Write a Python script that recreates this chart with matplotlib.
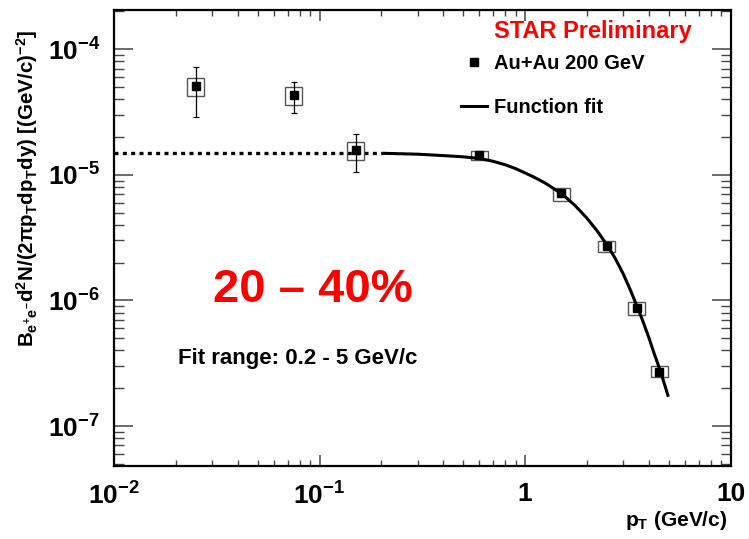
import numpy as np
import matplotlib
matplotlib.use('Agg')
import matplotlib.pyplot as plt
from matplotlib.patches import Rectangle
from matplotlib.lines import Line2D
from matplotlib.ticker import NullFormatter

plt.rcParams['font.family'] = ['Liberation Sans', 'DejaVu Sans']
plt.rcParams['font.weight'] = 'bold'
plt.rcParams['mathtext.fontset'] = 'custom'
plt.rcParams['mathtext.rm'] = 'Liberation Sans:bold'
plt.rcParams['mathtext.it'] = 'Liberation Sans:bold'
plt.rcParams['mathtext.bf'] = 'Liberation Sans:bold'

# data points
pt = np.array([0.025, 0.075, 0.15, 0.6, 1.5, 2.5, 3.5, 4.5])
yld = np.array([5.08e-5, 4.28e-5, 1.57e-5, 1.44e-5, 7.11e-6, 2.71e-6, 8.63e-7, 2.70e-7])
stat_lo = np.array([2.18e-5, 1.20e-5, 5.2e-6, 3e-7, 1.5e-7, 6e-8, 2e-8, 8e-9])
stat_hi = np.array([2.16e-5, 1.19e-5, 5.3e-6, 3e-7, 1.5e-7, 6e-8, 2e-8, 8e-9])
sys_lo = np.array([8.2e-6, 6.9e-6, 2.6e-6, 1.3e-6, 9.3e-7, 2.8e-7, 9.9e-8, 2.6e-8])
sys_hi = np.array([8.3e-6, 6.8e-6, 2.5e-6, 1.1e-6, 6.9e-7, 2.7e-7, 1.01e-7, 3.0e-8])

# fit curve, fit range 0.2 - 5 GeV/c
fit_pt = [0.204, 0.3, 0.4, 0.5, 0.6, 0.7, 0.8, 0.9, 1.0, 1.1, 1.25, 1.52, 1.75, 2.0,
          2.25, 2.53, 2.75, 3.0, 3.25, 3.54, 3.75, 4.0, 4.25, 4.57, 4.98]
fit_y = [1.483e-5, 1.459e-5, 1.422e-5, 1.39e-5, 1.349e-5, 1.28e-5, 1.202e-5, 1.12e-5,
         1.035e-5, 9.62e-6, 8.61e-6, 7.00e-6, 5.70e-6, 4.52e-6, 3.55e-6, 2.70e-6,
         2.15e-6, 1.633e-6, 1.216e-6, 8.63e-7, 6.78e-7, 5.07e-7, 3.77e-7, 2.70e-7, 1.71e-7]
# extrapolation to low pT
ext_pt = [0.01, 0.204]
ext_y = [1.48e-5, 1.48e-5]

xticks = [0.01, 0.1, 1, 10]
xticklabels = [r'$10^{-2}$', r'$10^{-1}$', '1', '10']
yticks = [1e-7, 1e-6, 1e-5, 1e-4]
yticklabels = [r'$10^{-7}$', r'$10^{-6}$', r'$10^{-5}$', r'$10^{-4}$']

fig = plt.figure(figsize=(7.49, 5.39), dpi=100)
ax = fig.add_axes([0.1522, 0.1362, 0.8232, 0.8447])
ax.set_xscale('log')
ax.set_yscale('log')
ax.set_xlim(1e-2, 10)
ax.set_ylim(4.84e-8, 2.04e-4)

# systematic boxes
hw = 0.0414  # half width in decades
for x, y, lo, hi in zip(pt, yld, sys_lo, sys_hi):
    x0 = x * 10 ** (-hw)
    x1 = x * 10 ** hw
    ax.add_patch(Rectangle((x0, y - lo), x1 - x0, lo + hi, fill=False,
                           edgecolor='#555555', linewidth=1.0, zorder=3))

ax.plot(ext_pt, ext_y, color='black', linewidth=2.4, dashes=(1.2, 1.3), zorder=2)
ax.plot(fit_pt, fit_y, color='black', linewidth=2.2, zorder=4, solid_capstyle='butt',
        solid_joinstyle='round')

ax.errorbar(pt, yld, yerr=[stat_lo, stat_hi], fmt='s', color='black', markersize=5.3,
            elinewidth=0.9, capsize=2.5, capthick=0.9, zorder=5)

ax.set_xticks(xticks)
ax.set_xticklabels(xticklabels)
ax.set_yticks(yticks)
ax.set_yticklabels(yticklabels)
ax.xaxis.set_minor_formatter(NullFormatter())
ax.yaxis.set_minor_formatter(NullFormatter())

ax.tick_params(axis='both', which='both', direction='in', top=True, right=True, color='#444444')
ax.tick_params(axis='x', which='major', length=8, width=1.1, labelsize=19, pad=12)
ax.tick_params(axis='x', which='minor', length=4.3, width=1.0)
ax.tick_params(axis='y', which='major', length=13.7, width=1.1, labelsize=19, pad=10)
ax.tick_params(axis='y', which='minor', length=7.2, width=1.0)
for s in ax.spines.values():
    s.set_linewidth(1.6)

ax.set_ylabel(r'B$_{e^{+}e^{-}}$d$^{2}$N/(2πp$_{T}$dp$_{T}$dy) [(GeV/c)$^{-2}$]',
              fontsize=14.8, fontweight='bold')
ax.yaxis.set_label_coords(-0.12, 0.61)
ax.set_xlabel(r'p$_{T}$ (GeV/c)', fontsize=15, fontweight='bold', ha='right')
ax.xaxis.set_label_coords(0.995, -0.095)

ax.text(0.6163, 0.953, 'STAR Preliminary', transform=ax.transAxes, color='#ff0000',
        fontsize=17, fontweight='bold', ha='left', va='center')
ax.text(0.3227, 0.3857, '20 – 40%', transform=ax.transAxes, color='#ff0000',
        fontsize=34, fontweight='bold', ha='center', va='center')
ax.text(0.1038, 0.2363, 'Fit range: 0.2 - 5 GeV/c', transform=ax.transAxes, color='black',
        fontsize=16, fontweight='bold', ha='left', va='center')

handles = [Line2D([], [], marker='s', color='black', linestyle='none', markersize=5.3),
           Line2D([], [], color='black', linewidth=2.2)]
leg = ax.legend(handles, ['Au+Au 200 GeV', 'Function fit'], loc='upper left',
                bbox_to_anchor=(461 / 749, 1 - 54 / 539), bbox_transform=fig.transFigure,
                frameon=False, fontsize=14.5, handlelength=1.3, handletextpad=0.35,
                labelspacing=1.25, borderpad=0, borderaxespad=0)

plt.savefig('out.png', dpi=100)
